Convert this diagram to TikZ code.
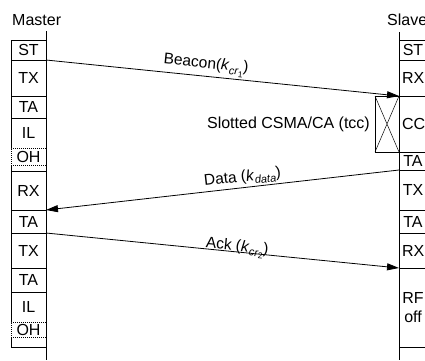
\documentclass[tikz,border=0pt]{standalone}
\usepackage{fontspec}
\setmainfont{Liberation Sans}
\usetikzlibrary{arrows.meta,positioning}
\newcommand{\lblfont}{\fontsize{16}{18.5}\selectfont}
\newcommand{\msgfont}{\fontsize{15.5}{18}\selectfont}
\newcommand{\subtx}[1]{\raisebox{-0.45ex}{\fontsize{11}{12}\selectfont\itshape #1}}
\newcommand{\subsubtx}[1]{\raisebox{-0.35ex}{\fontsize{8.5}{9}\selectfont\upshape #1}}
\tikzset{
  slot/.style={draw,line width=0.8pt,minimum width=35pt,inner sep=0pt,
               outer sep=0pt,font=\lblfont,align=center},
  sslot/.style={slot,minimum width=28pt,text width=22pt,inner xsep=3pt},
  bare/.style={slot,draw=none},
  ohslot/.style={slot,dash pattern=on 1pt off 1pt},
  lifeline/.style={line width=0.8pt},
  msgarr/.style={-{Triangle[length=12pt,width=7pt]},line width=0.8pt},
  msglbl/.style={sloped,inner sep=0pt,font=\msgfont}
}
\begin{document}
\begin{tikzpicture}[x=1pt,y=-1pt]
  \useasboundingbox (0,0) rectangle (425,360);
  \clip (0,0) rectangle (425,360);

  \node[anchor=base west,inner sep=0pt,font=\lblfont] (master) at (12,25) {Master};
  \node[anchor=base west,inner sep=0pt,font=\lblfont] (slave) at (387,25) {Slave};

  % master side
  \node[slot,minimum height=20pt] (mST) at (28.5,50) {ST};
  \node[slot,minimum height=36pt,below=0pt of mST] (mTX) {TX};
  \node[slot,minimum height=22pt,below=0pt of mTX] (mTA) {TA};
  \node[bare,minimum height=30pt,below=0pt of mTA] (mIL) {IL};
  \node[ohslot,minimum height=17pt,below=0pt of mIL] (mOH) {OH};
  \node[bare,minimum height=6pt,below=0pt of mOH] (mGap) {};
  \node[slot,minimum height=39pt,below=0pt of mGap] (mRX) {RX};
  \node[slot,minimum height=23pt,below=0pt of mRX] (mTA2) {TA};
  \node[slot,minimum height=35pt,below=0pt of mTA2] (mTX2) {TX};
  \node[slot,minimum height=24pt,below=0pt of mTX2] (mTA3) {TA};
  \node[bare,minimum height=30pt,below=0pt of mTA3] (mIL2) {IL};
  \node[ohslot,minimum height=15pt,below=0pt of mIL2] (mOH2) {OH};
  \node[bare,minimum height=10pt,below=0pt of mOH2] (mGap2) {};
  \draw[line width=0.8pt] (mIL.south west) |- (mIL.north east) -- (mIL.south east);
  \draw[line width=0.8pt] (mGap.north west) |- (mGap.south east) -- (mGap.north east);
  \draw[line width=0.8pt] (mIL2.south west) |- (mIL2.north east) -- (mIL2.south east);
  \draw[line width=0.8pt] (mGap2.north west) |- (mGap2.south east) -- (mGap2.north east);

  % slave side
  \node[sslot,minimum height=20pt] (sST) at (413,50) {ST};
  \node[sslot,minimum height=36pt,below=0pt of sST] (sRX) {RX};
  \node[sslot,minimum height=56pt,below=0pt of sRX] (sCCA) {CCA};
  \node[sslot,minimum height=18pt,below=0pt of sCCA] (sTA) {TA};
  \node[sslot,minimum height=40pt,below=0pt of sTA] (sTX) {TX};
  \node[sslot,minimum height=23pt,below=0pt of sTX] (sTA2) {TA};
  \node[sslot,minimum height=35pt,below=0pt of sTA2] (sRX2) {RX};
  \node[sslot,minimum height=79pt,below=0pt of sRX2] (sRF) {RF\\off};

  \coordinate (mTop) at (46,31);
  \coordinate (mEnd) at (46,360);
  \coordinate (sTop) at (399,32);
  \coordinate (sEnd) at (399,360);
  \draw[lifeline] (mTop) -- (mEnd);
  \draw[lifeline] (sTop) -- (sEnd);

  \node[draw,line width=0.6pt,minimum width=24pt,minimum height=56pt,inner sep=0pt,
        outer sep=0pt,anchor=north east] (xbox) at (sCCA.north west) {};
  \draw[line width=0.5pt] (xbox.north west) -- (xbox.south east)
                          (xbox.north east) -- (xbox.south west);
  \node[left=5pt of xbox,inner sep=0pt,font=\lblfont] (csma) {Slotted CSMA/CA (tcc)};

  \draw[msgarr] (mST.south east) -- node[msglbl,pos=0.45,above=2pt] (beacon)
    {Beacon(\textit{k}\subtx{cr\subsubtx{1}})} (sRX.south west);
  \draw[msgarr] (sTA.south west) -- node[msglbl,pos=0.44,above=2pt] (data)
    {Data (\textit{k}\subtx{data})} (mRX.south east);
  \draw[msgarr] (mTA2.south east) -- node[msglbl,pos=0.54,above=-5pt] (ack)
    {Ack (\textit{k}\subtx{cr\subsubtx{2}})} (sRX2.south west);
\end{tikzpicture}
\end{document}
